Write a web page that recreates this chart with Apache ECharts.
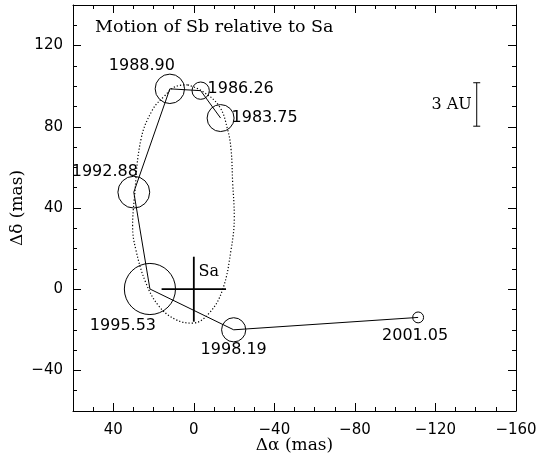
<!DOCTYPE html>
<html>
<head>
<meta charset="utf-8">
<script src="https://cdn.jsdelivr.net/npm/echarts@6/dist/echarts.min.js"></script>
<style>
html, body { margin: 0; padding: 0; background: #fff; }
#chart { width: 539px; height: 460px; }
</style>
</head>
<body>
<div id="chart"></div>
<script>
// observed epochs of Sb relative to Sa (mas)
var epochs = ['1983.75', '1986.26', '1988.90', '1992.88', '1995.53', '1998.19', '2001.05'];
var dAlpha = [-13.3, -3.4, 11.9, 29.8, 21.8, -19.8, -111.4];
var dDelta = [84.3, 97.8, 98.7, 47.8, 0.1, -20.0, -13.9];
var errRadius = [6.7, 4.3, 7.3, 7.9, 12.7, 6.0, 2.7];

// dotted orbit, points
var orbitAlpha = [3.1, 8.9, 14.7, 20.5, 26.3, 29.6, 30.4, 28.8, 23.8, 17.2, 8.9, 0.6, -7.7, -14.3, -18.5, -20.1, -19.3, -18.5, -16.8, -12.7, -4.4, 3.1];
var orbitDelta = [100.7, 99.9, 95.0, 88.4, 73.6, 44.1, 30.9, 19.5, 3.1, -8.5, -15.0, -16.7, -11.7, -0.2, 19.5, 35.9, 52.3, 68.7, 78.6, 90.0, 97.4, 100.7];

// Sa position and cross size, 3 AU scale bar
var saPos = [0, 0, 16];
var scaleBar = [-140.5, 80.3, 101.7];

var xTicks = [-160, -120, -80, -40, 0, 40];
var yTicks = [-40, 0, 40, 80, 120];

// label offsets in px from the circle centre
var labelOffsets = [[44, 0], [40, -2], [-28, -23], [-29, -20], [-27, 37], [0, 20], [-3, 18]];

var black = '#000';
var numFont = 'DejaVu Sans';
var txtFont = 'DejaVu Serif';

function minus(v) {
    return String(v).replace('-', '\u2212');
}

function makeAxis(dim, pos, major, withLabel) {
    var ax = {
        type: 'value',
        position: pos,
        min: dim == 'x' ? -160 : -60,
        max: dim == 'x' ? 60 : 140,
        inverse: dim == 'x',
        interval: 10,
        splitLine: { show: false },
        axisLine: { show: !major, onZero: false, lineStyle: { color: black, width: 1 } },
        axisTick: { show: true, inside: true, length: major ? 8 : 4, lineStyle: { color: black } },
        axisLabel: { show: false }
    };
    if (major) {
        ax.axisTick.customValues = dim == 'x' ? xTicks : yTicks;
    }
    if (withLabel) {
        ax.axisLabel = {
            show: true,
            customValues: dim == 'x' ? xTicks : yTicks,
            formatter: minus,
            color: black,
            fontFamily: numFont,
            fontSize: 15,
            margin: dim == 'x' ? 12 : 10
        };
        ax.name = dim == 'x' ? '\u0394\u03b1 (mas)' : '\u0394\u03b4 (mas)';
        ax.nameLocation = 'middle';
        ax.nameMoveOverlap = false;
        ax.nameGap = dim == 'x' ? 26 : 47;
        ax.nameTextStyle = { color: black, fontFamily: txtFont, fontSize: 17 };
    }
    return ax;
}

var myChart = echarts.init(document.getElementById('chart'));

var pointData = epochs.map(function (e, i) {
    return [dAlpha[i], dDelta[i], errRadius[i]];
});
var trackData = epochs.map(function (e, i) {
    return [dAlpha[i], dDelta[i]];
});
var orbitData = orbitAlpha.map(function (a, i) {
    return [a, orbitDelta[i]];
});

var option = {
    animation: false,
    grid: { left: 73, right: 23, top: 5, bottom: 49, outerBoundsMode: 'none' },
    xAxis: [
        makeAxis('x', 'bottom', false, false),
        makeAxis('x', 'bottom', true, true),
        makeAxis('x', 'top', false, false),
        makeAxis('x', 'top', true, false)
    ],
    yAxis: [
        makeAxis('y', 'left', false, false),
        makeAxis('y', 'left', true, true),
        makeAxis('y', 'right', false, false),
        makeAxis('y', 'right', true, false)
    ],
    graphic: [{
        type: 'text',
        left: 95,
        top: 18,
        style: { text: 'Motion of Sb relative to Sa', font: '17.5px "DejaVu Serif"', fill: black }
    }],
    series: [
        {
            type: 'line',
            data: orbitData,
            smooth: 0.4,
            symbol: 'none',
            silent: true,
            lineStyle: { color: black, width: 1.2, type: [1.2, 2] }
        },
        {
            type: 'line',
            data: trackData,
            symbol: 'none',
            silent: true,
            lineStyle: { color: black, width: 1 }
        },
        {
            type: 'custom',
            data: pointData,
            encode: { x: 0, y: 1 },
            silent: true,
            renderItem: function (params, api) {
                var c = api.coord([api.value(0), api.value(1)]);
                var r = Math.abs(api.size([api.value(2), 0])[0]);
                var off = labelOffsets[params.dataIndex];
                return {
                    type: 'group',
                    children: [{
                        type: 'circle',
                        shape: { cx: c[0], cy: c[1], r: r },
                        style: { fill: 'none', stroke: black, lineWidth: 1 }
                    }, {
                        type: 'text',
                        x: c[0] + off[0],
                        y: c[1] + off[1],
                        style: {
                            text: epochs[params.dataIndex],
                            font: '16px "DejaVu Sans"',
                            fill: black,
                            align: 'center',
                            verticalAlign: 'middle'
                        }
                    }]
                };
            }
        },
        {
            // Sa cross
            type: 'custom',
            data: [saPos],
            encode: { x: 0, y: 1 },
            silent: true,
            renderItem: function (params, api) {
                var x = api.value(0), y = api.value(1), s = api.value(2);
                var l = api.coord([x + s, y]), rr = api.coord([x - s, y]);
                var t = api.coord([x, y + s]), b = api.coord([x, y - s]);
                var c = api.coord([x, y]);
                var st = { stroke: black, lineWidth: 1.8 };
                return {
                    type: 'group',
                    children: [
                        { type: 'line', shape: { x1: l[0], y1: l[1], x2: rr[0], y2: rr[1] }, style: st },
                        { type: 'line', shape: { x1: t[0], y1: t[1], x2: b[0], y2: b[1] }, style: st },
                        {
                            type: 'text', x: c[0] + 15, y: c[1] - 17,
                            style: { text: 'Sa', font: '16px "DejaVu Serif"', fill: black, align: 'center', verticalAlign: 'middle' }
                        }
                    ]
                };
            }
        },
        {
            // 3 AU scale bar
            type: 'custom',
            data: [scaleBar],
            encode: { x: 0, y: [1, 2] },
            silent: true,
            renderItem: function (params, api) {
                var lo = api.coord([api.value(0), api.value(1)]);
                var hi = api.coord([api.value(0), api.value(2)]);
                var st = { stroke: black, lineWidth: 1 };
                return {
                    type: 'group',
                    children: [
                        { type: 'line', shape: { x1: lo[0], y1: lo[1], x2: hi[0], y2: hi[1] }, style: st },
                        { type: 'line', shape: { x1: lo[0] - 3.5, y1: lo[1], x2: lo[0] + 3.5, y2: lo[1] }, style: st },
                        { type: 'line', shape: { x1: hi[0] - 3.5, y1: hi[1], x2: hi[0] + 3.5, y2: hi[1] }, style: st },
                        {
                            type: 'text', x: lo[0] - 5, y: (lo[1] + hi[1]) / 2,
                            style: { text: '3 AU', font: '16px "DejaVu Serif"', fill: black, align: 'right', verticalAlign: 'middle' }
                        }
                    ]
                };
            }
        }
    ]
};
myChart.setOption(option);
</script>
</body>
</html>
